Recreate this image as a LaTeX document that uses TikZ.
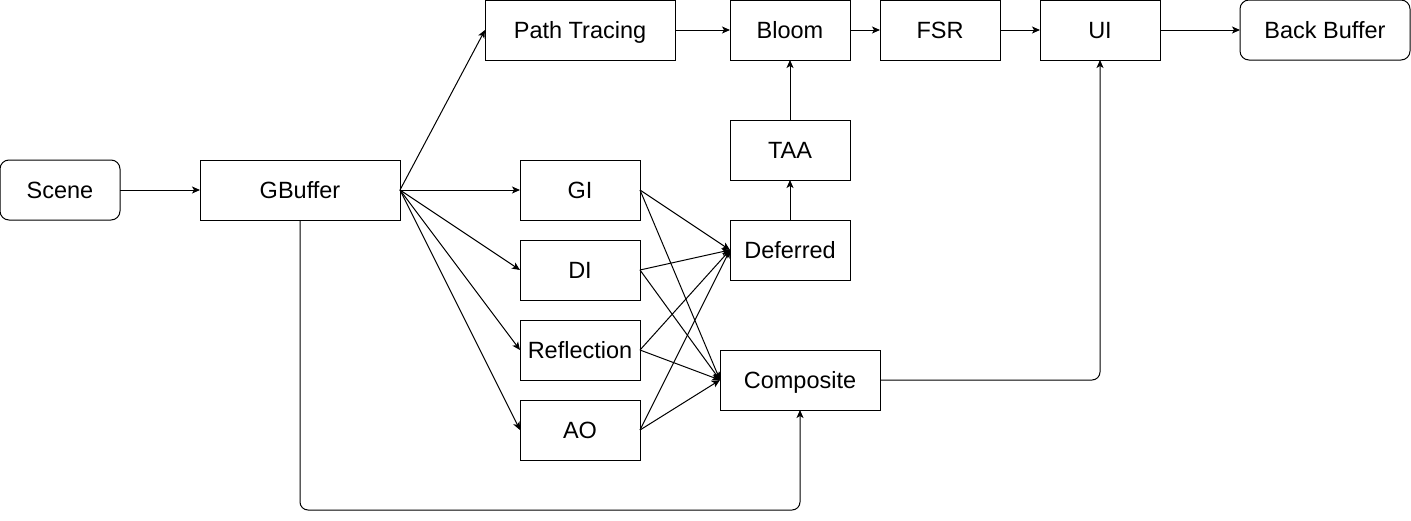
\documentclass[tikz,border=0pt]{standalone}
\usepackage{fontspec}
\setmainfont{Liberation Sans}
\usetikzlibrary{arrows.meta}
\begin{document}
\begin{tikzpicture}[x=1pt,y=-1pt,
  box/.style={draw=black,line width=1pt,fill=white,inner sep=0pt,outer sep=0pt,
    minimum height=60pt,text height=16.8pt,text depth=0pt,
    font=\fontsize{23.5}{28}\selectfont},
  rbox/.style={box,rounded corners=9pt},
  arr/.style={draw=black,line width=1pt,-{Stealth[length=8pt,width=7pt,inset=2pt]}}]
\useasboundingbox (0,0) rectangle (1411,520);
\node[rbox,minimum width=120pt] (scene) at (60,190) {Scene};
\node[box,minimum width=200pt] (gb) at (300,190) {GBuffer};
\node[box,minimum width=190pt] (pt) at (580,30) {Path Tracing};
\node[box,minimum width=120pt] (bloom) at (790,30) {Bloom};
\node[box,minimum width=120pt] (fsr) at (940,30) {FSR};
\node[box,minimum width=120pt] (ui) at (1100,30) {UI};
\node[rbox,minimum width=170pt] (bb) at (1325,30) {Back Buffer};
\node[box,minimum width=120pt] (taa) at (790,150) {TAA};
\node[box,minimum width=120pt] (def) at (790,250) {Deferred};
\node[box,minimum width=120pt] (gi) at (580,190) {GI};
\node[box,minimum width=120pt] (di) at (580,270) {DI};
\node[box,minimum width=120pt] (refl) at (580,350) {Reflection};
\node[box,minimum width=120pt] (ao) at (580,430) {AO};
\node[box,minimum width=160pt] (comp) at (800,380) {Composite};
\coordinate (bl) at (300,510);
\coordinate (br) at (800,510);

\draw[arr] (scene) -- (gb);
\draw[arr] (gb.east) -- (pt.west);
\foreach \t in {gi,di,refl,ao} {\draw[arr] (gb.east) -- (\t.west);}
\foreach \s in {gi,di,refl,ao} {
  \draw[arr] (\s.east) -- (def.west);
  \draw[arr] (\s.east) -- (comp.west);
}
\draw[arr] (def) -- (taa);
\draw[arr] (taa) -- (bloom);
\draw[arr] (pt) -- (bloom);
\draw[arr] (bloom) -- (fsr);
\draw[arr] (fsr) -- (ui);
\draw[arr] (ui) -- (bb);
\draw[arr,rounded corners=8pt] (gb.south) -- (bl) -- (br) -- (comp.south);
\draw[arr,rounded corners=8pt] (comp.east) -- (comp.east -| ui.south) -- (ui.south);
\end{tikzpicture}
\end{document}
